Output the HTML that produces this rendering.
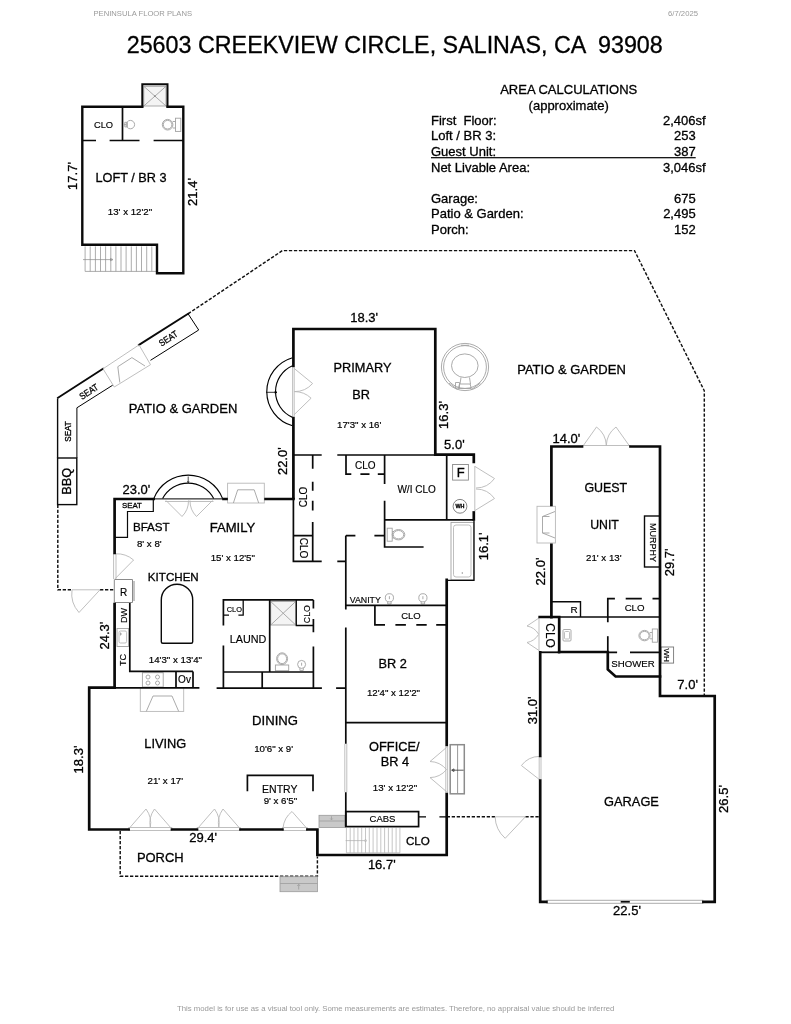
<!DOCTYPE html>
<html lang="en">
<head>
<meta charset="utf-8">
<title>25603 Creekview Circle, Salinas, CA 93908 - Floor Plan</title>
<style>
html,body{margin:0;padding:0;background:#fff;}
body{width:791px;height:1024px;overflow:hidden;}
svg{display:block;filter:grayscale(1);}
text{font-family:"Liberation Sans",Arial,sans-serif;fill:#000;stroke:#000;stroke-width:0.3px;}
.W{stroke:#0a0a0a;stroke-width:2.7;fill:none;stroke-linecap:square;stroke-linejoin:miter;}
.w{stroke:#0a0a0a;stroke-width:1.7;fill:none;stroke-linecap:butt;stroke-linejoin:miter;}
.t{stroke:#000;stroke-width:1;fill:none;}
.g{stroke:#a2a2a2;stroke-width:0.9;fill:none;}
.gl{stroke:#b8b8b8;stroke-width:0.9;fill:none;}
.d{stroke:#111;stroke-width:1.45;fill:none;stroke-dasharray:3.3 1.7;}
.rm{font-size:13.1px;text-anchor:middle;}
.dm{font-size:9.7px;text-anchor:middle;stroke-width:0.2px;}
.ft{font-size:13px;text-anchor:middle;}
.sm{font-size:10px;text-anchor:middle;stroke-width:0.15px;}
.ac{font-size:13px;stroke-width:0.18px;}
.hd{font-size:7.65px;fill:#9a9a9a;stroke:none;}
</style>
</head>
<body>
<svg width="791" height="1024" viewBox="0 0 791 1024">
<rect width="791" height="1024" fill="#fff"/>

<!-- ===== HEADER ===== -->
<g id="header">
<text class="hd" x="93.5" y="16" textLength="98.5" lengthAdjust="spacingAndGlyphs">PENINSULA FLOOR PLANS</text>
<text class="hd" x="668" y="16" textLength="30" lengthAdjust="spacingAndGlyphs">6/7/2025</text>
<text x="126.700" y="53.400" style="font-size:23.300px" xml:space="preserve">25603 CREEKVIEW CIRCLE, SALINAS, CA  93908</text>
</g>

<!-- ===== AREA CALCULATIONS ===== -->
<g id="area" class="ac">
<text x="568.7" y="94" text-anchor="middle">AREA CALCULATIONS</text>
<text x="568.7" y="109.5" text-anchor="middle">(approximate)</text>
<text x="431" y="125" xml:space="preserve">First  Floor:</text>
<text x="431" y="140">Loft / BR 3:</text>
<text x="431" y="155.5">Guest Unit:</text>
<text x="431" y="171.5">Net Livable Area:</text>
<text x="431" y="202.5">Garage:</text>
<text x="431" y="218">Patio &amp; Garden:</text>
<text x="431" y="233.5">Porch:</text>
<text x="705.7" y="125" text-anchor="end">2,406sf</text>
<text x="695.7" y="140" text-anchor="end">253</text>
<text x="695.7" y="155.5" text-anchor="end">387</text>
<text x="705.7" y="171.5" text-anchor="end">3,046sf</text>
<text x="695.7" y="202.5" text-anchor="end">675</text>
<text x="695.7" y="218" text-anchor="end">2,495</text>
<text x="695.7" y="233.5" text-anchor="end">152</text>
<rect x="431" y="157.100" width="264.700" height="1.200" fill="#000"/>
</g>

<!-- ===== LOFT ===== -->
<g id="loft">
<!-- stairs -->
<g fill="none" stroke="#8a8a8a" stroke-width="0.700">
<path d="M85.1 246.400V271.400M90.2 246.400V271.400M95.4 246.400V271.400M100.5 246.400V271.400M105.6 246.400V271.400M110.8 246.400V271.400M115.9 246.400V271.400M121.0 246.400V271.400M126.1 246.400V271.400M131.3 246.400V271.400M136.4 246.400V271.400M141.5 246.400V271.400M146.7 246.400V271.400M151.8 246.400V271.400"/>
<path d="M85.100 271.400H156"/>
<path d="M83 259.600H112M110.500 258.400l2.500 1.200l-2.500 1.200z"/>
</g>
<!-- shower -->
<rect x="143.800" y="86.300" width="22.200" height="19.700" class="g" style="fill:#f4f4f4"/>
<path class="g" d="M143.800 86.300L166 106M166 86.300L143.800 106"/>
<circle cx="154.900" cy="96.100" r="0.900" fill="#888"/>
<path class="w" d="M142.300 106.800V84.300H167.500V106.800" style="stroke-width:2"/>
<!-- outer walls -->
<path class="W" d="M142.300 106.800H82.300V244.800H157V273.200H183.300V106.800H167.500" style="stroke-width:2.400"/>
<!-- interior -->
<path class="w" d="M122.500 106.800V140.500M82.300 140.500H96M109.600 140.500H139.500M153.600 140.500H183.300"/>
<!-- sink -->
<circle class="g" cx="130.400" cy="124.600" r="4.200"/>
<path class="g" d="M124.800 122.300h2.600v4.600h-2.600zM123.800 124.600h3"/>
<!-- toilet -->
<circle class="g" cx="167.600" cy="124.700" r="5.300"/>
<circle class="g" cx="167.600" cy="124.700" r="4.300"/>
<rect class="g" x="175.500" y="118.200" width="5.300" height="13.200"/>
<path class="g" d="M172.800 121.500h2.700M172.800 128h2.700"/>
<text class="sm" style="font-size:9.300px" x="103.500" y="128.400">CLO</text>
<text class="rm" x="131" y="181.700" textLength="71" lengthAdjust="spacingAndGlyphs">LOFT / BR 3</text>
<text class="dm" x="130" y="215.400">13' x 12'2"</text>
<text class="ft" transform="translate(76.500 176) rotate(-90)">17.7'</text>
<text class="ft" transform="translate(197.400 192) rotate(-90)">21.4'</text>
</g>
<!-- ===== PATIO ===== -->
<g id="patio">
<!-- dashed boundary -->
<path class="d" d="M188.100 313.800L282.400 250.600H634.500L704.300 390.800V696"/>
<path class="d" d="M57.800 504.700V589.800H72M100 589.800H114.600"/>
<path class="d" d="M120.200 831V876.200H317.400V856.500"/>
<path class="d" d="M446.700 816.800H495.100M525.400 816.800H539.700"/>
<path class="t" d="M418.600 816.800H426M439.400 816.800H446.700" style="stroke-width:1.300"/>
<!-- seat band -->
<path class="w" d="M57.600 457.900V398.500" style="stroke-width:1.400"/><path class="w" d="M58 397.700L103 368.800M139 344.900L188.100 313.800" style="stroke-width:1.900;stroke-linecap:square"/>
<path class="t" d="M76.900 457.900V407.800L112.700 385.200M150.500 360.300L198.700 330L188.100 313.800"/>
<!-- patio fireplace -->
<path class="gl" d="M103 368.800L139 344.900L150.500 364.700L114.300 387Z"/>
<path class="g" d="M119.800 382.500L117.800 366.700L131.900 357.600L145 366"/>
<!-- BBQ -->
<rect class="w" x="57.600" y="458" width="19.200" height="46.600" style="stroke-width:1.400"/>
<text class="sm" style="font-size:9.300px;stroke-width:0.300px" transform="translate(88.800 391.600) rotate(-33)" dy="3.300" textLength="20.500" lengthAdjust="spacingAndGlyphs">SEAT</text>
<text class="sm" style="font-size:9.300px;stroke-width:0.300px" transform="translate(168.300 338.400) rotate(-33)" dy="3.300" textLength="20.500" lengthAdjust="spacingAndGlyphs">SEAT</text>
<text class="sm" style="font-size:9.300px;stroke-width:0.300px" transform="translate(67.900 431.500) rotate(-90)" dy="3.300" textLength="20.500" lengthAdjust="spacingAndGlyphs">SEAT</text>
<text class="ft" style="font-size:13.600px" transform="translate(65.800 481.300) rotate(-90)" dy="4.900" textLength="27" lengthAdjust="spacingAndGlyphs">BBQ</text>
<text class="rm" style="font-size:13px" x="183" y="412.600">PATIO &amp; GARDEN</text>
<text class="rm" style="font-size:13px" x="571.500" y="373.600">PATIO &amp; GARDEN</text>
<text class="rm" x="160.300" y="862" textLength="46.8" lengthAdjust="spacingAndGlyphs">PORCH</text>
<!-- hot tub -->
<g class="g">
<circle cx="465" cy="367" r="23.600"/>
<circle cx="465" cy="367" r="21.400"/>
<ellipse cx="464.800" cy="365.700" rx="13.300" ry="11.800"/>
<path d="M461 377.500l-1 6.500h10.500l-1 -6.500M459.500 384l-1.200 4.500h13l-1.200 -4.500M455.500 382.500h4v5.500h-4zM449 383l8.500 6.500M480.500 383l-9 6.500M461 345.300h8"/>
</g>
<!-- gates -->
<g class="gl">
<path d="M72 589.800H100M100 589.800L79 612.500M72 589.800A28 28 0 0 0 79 612.500"/>
<path d="M495.100 816.800H525.400M525.400 816.800L505.200 838.300M495.100 816.800A30 30 0 0 0 505.200 838.300"/>
</g>
<!-- porch steps -->
<g>
<rect x="280" y="876.700" width="37.400" height="15" fill="#c9c9c9" stroke="#9a9a9a" stroke-width="0.800"/>
<path class="g" d="M280 883.500H317.400M298.700 884.500v5M297.300 886l1.400 -1.800l1.400 1.800"/>
<rect x="319" y="815.300" width="26" height="12.200" fill="#c9c9c9" stroke="#9a9a9a" stroke-width="0.800"/>
<path class="g" d="M319 821H345M331.500 816.300v3.500M330.300 818.500l1.200 1.400l1.200 -1.400"/>
</g>
</g>
<!-- ===== MAIN HOUSE ===== -->
<g id="main">
<!-- light fixtures / grey items first -->
<g id="main-grey">
<!-- family fireplace -->
<rect class="gl" x="227.600" y="483.200" width="36.700" height="19.800" style="fill:#fff"/>
<path class="g" d="M233.400 503L237.700 489.800H254.200L258.700 503"/>
<!-- living fireplace -->
<rect class="gl" x="140.300" y="687.700" width="43.400" height="23.700" style="fill:#fff"/>
<path class="g" d="M146.300 711.400L153 696H172L178.700 711.400"/>
<!-- bay french doors (family) -->
<path class="gl" d="M166 500.500L182 516.500M212.500 500.500L196.500 516.500M182 516.500A22 22 0 0 0 188.500 500.500M196.500 516.500A22 22 0 0 1 190 500.500M165 501.500H213.500"/>
<!-- primary french doors -->
<path class="gl" d="M294 368.300L312.600 383.500M294 414.800L311.100 398.200M312.600 383.500A24 24 0 0 1 294.400 391.600M311.100 398.200A24 24 0 0 0 294.400 391.600M292.600 367.500V416.400M294.200 367.500V416.400"/>
<!-- kitchen side door -->
<path class="gl" d="M113.600 553.500V579M116 553.500V579M115 578.800L133.600 560M133.600 560A26 26 0 0 0 115.500 553.800"/>
<!-- living french doors -->
<path class="gl" d="M128.600 827.500H172V830.500H128.600ZM129.500 828L146 809M171 828L154.500 809M146 809A24 24 0 0 1 150.300 827.500M154.500 809A24 24 0 0 0 150.300 827.500"/>
<path class="gl" d="M197 827.500H240.500V830.500H197ZM198 828L214.500 809M239.500 828L223 809M214.500 809A24 24 0 0 1 218.800 827.500M223 809A24 24 0 0 0 218.800 827.500"/>
<!-- entry door -->
<path class="gl" d="M282.400 827.500H307.400V830.500H282.400ZM306.500 828L292 811.500M292 811.500A24 24 0 0 0 283 828"/>
<!-- office french doors + steps -->
<path class="gl" d="M445.800 746.300V792.800M447.600 746.300V792.800M446.700 747.300L430 761.500M446.700 791.800L430 777.600M430 761.500A22 22 0 0 1 446.500 769.600M430 777.600A22 22 0 0 0 446.500 769.600"/>
<rect x="450.200" y="744.700" width="14.100" height="49.100" fill="#fff" stroke="#8c8c8c" stroke-width="1.500"/>
<path class="g" d="M457.600 745V793.500" style="stroke:#8c8c8c"/>
<path class="t" d="M452 770.200H463.600M454 768.900l-2.400 1.300l2.400 1.300z" style="stroke-width:0.800;stroke:#333"/>
<!-- office window on left wall -->
<path class="gl" d="M344.800 743.800V792.200M346.800 743.800V792.200"/>
<!-- F closet doors -->
<path class="gl" d="M474.800 466V511M475 466.500L494.500 478.500M475 510.500L494.500 498.500M494.500 478.500A23 23 0 0 1 476 488M494.500 498.500A23 23 0 0 0 476 489"/>
<!-- bathtub -->
<rect class="g" x="451" y="522.400" width="22.800" height="57.400"/>
<rect class="gl" x="453.500" y="525" width="17.500" height="52" rx="2.500"/>
<circle cx="462.300" cy="573" r="0.700" fill="#888"/>
<!-- closet stairs -->
<g fill="none" stroke="#adadad" stroke-width="0.700">
<path d="M346.4 827.800V852.800M350.2 827.800V852.800M354.0 827.800V852.800M357.9 827.800V852.800M361.7 827.800V852.800M365.5 827.800V852.800M369.3 827.800V852.800M373.1 827.800V852.800M377.0 827.800V852.800M380.8 827.800V852.800M384.6 827.800V852.800M388.4 827.800V852.800M392.2 827.800V852.800M396.1 827.800V852.800M399.9 827.800V852.800"/>
<path d="M346.400 852.800H399.900"/>
<path d="M345.600 840.600H364.500"/>
<circle cx="365.500" cy="840.600" r="1"/>
</g>
<!-- toilets / sinks -->
<g class="g">
<ellipse cx="398.500" cy="534.700" rx="6.300" ry="5.200"/>
<ellipse cx="398.500" cy="534.700" rx="5.200" ry="4.200"/>
<rect x="387.200" y="528.200" width="5" height="13"/>
<path d="M392.200 531.500h1.800M392.200 538h1.800"/>
<circle cx="389.400" cy="597.800" r="4.100"/>
<path d="M387.700 601.600v2.300h3.400v-2.300M389.400 596.200v3"/>
<circle cx="422.900" cy="597.800" r="4.100"/>
<path d="M421.200 601.600v2.300h3.400v-2.300M422.900 596.200v3"/>
<ellipse cx="282.100" cy="658.700" rx="5.500" ry="5.900"/>
<ellipse cx="282.100" cy="658.700" rx="4.500" ry="4.900"/>
<rect x="275.400" y="665" width="13.300" height="5.700"/>
<circle cx="301.600" cy="664.400" r="4"/>
<path d="M299.900 668.100v2.300h3.400v-2.300M301.600 662.700v3"/>
</g>
<!-- laundry shower -->
<rect class="g" x="270.700" y="601.500" width="25" height="23.500" style="fill:#f4f4f4"/>
<path class="g" d="M270.700 601.500L295.700 625M295.700 601.500L270.700 625"/>
<!-- sink & stove in kitchen -->
<rect class="g" x="117" y="628.500" width="11.600" height="18"/>
<rect class="gl" x="119" y="631" width="7.600" height="12" rx="1.500"/>
<path class="g" d="M120 634h2M120.500 632.500v3"/>
<rect class="g" x="142.400" y="672.700" width="20.800" height="14.300"/>
<g class="g"><circle cx="148" cy="677" r="2"/><circle cx="157.500" cy="677" r="2"/><circle cx="148" cy="683" r="2"/><circle cx="157.500" cy="683" r="2"/></g>
</g>

<!-- thin interior walls -->
<g id="main-int" class="w">
<!-- primary suite -->
<path d="M293.400 455H321.700M337.300 455H446.700"/>
<path d="M346 455V474.100H351.300M360.400 474.100H369.500M377.800 474.100H384.700"/>
<path d="M384.600 455V484M384.600 500.700V547H423.600"/>
<path d="M384.600 519.800H473.800M446.700 455V519.800"/>
<path d="M293.400 498V561.400H321.700M337.300 561.400H346M293.400 535.600H312.700"/>
<path d="M312.700 455V468.800M312.700 481.700V490.800M312.700 500.700V510.500M312.700 521.900V561.400"/>
<path d="M346 535.600H355.400M374.400 535.600H384.600"/>
<path d="M345.800 535.600V609.400M345.800 627.400V743.800M345.800 792.200V826.600"/>
<path d="M345.800 605.300H446.700"/>
<path d="M374.900 605.300V624.900H385M395.400 624.900H405.900M416.300 624.900H426.700M436.200 624.900H446.700"/>
<path d="M345.800 722.700H446.700"/>
<path stroke-width="1.300" d="M474 521V580.300H446.700"/>
<!-- CABS -->
<rect x="345.800" y="811.600" width="72.800" height="15"/>
<!-- kitchen -->
<path d="M114.600 687.900H199.400M216.600 688.100H321.900M336.100 688.100H345.800"/>
<path d="M129.800 602V671.400H193M176 671.400V687.700M193 671.400V687.700"/>
<path stroke-width="1" stroke="#8a8a8a" d="M114.600 579.500H132.500V602.500H114.600M114.300 579.500V602.500M134 581V601"/>
<!-- bfast seat -->
<path stroke-width="1.200" d="M153.300 499V511.500H127.500V537.300H114.600"/>
<!-- island -->
<path stroke-width="1.400" d="M161.300 641.800V599.900A15.700 15.700 0 0 1 192.700 599.900V641.800Q192.700 643.300 191.200 643.300H162.800Q161.300 643.300 161.300 641.800Z"/>
<!-- laundry / hall bath -->
<path d="M313.400 599.900H223.400V625.500M223.400 645.400V688.100"/>
<path d="M223.400 672H313.400M262.200 672V688.100M269.700 599.900V672"/>
<path d="M313.400 599.900V608.400M313.400 618.900V632.200M313.400 646.400V688.100"/>
<path stroke-width="1.300" d="M243.200 599.900V615.100H238.400M229 615.100H223.400M296.300 599.900V625.500H313.400"/>
<!-- entry bracket -->
<path d="M247.400 791.300V775.400H313V791.300"/>
</g>

<!-- bay arcs -->
<g class="t" style="stroke-width:1.150">
<path d="M153.800 498.600A36.900 36.900 0 0 1 222.600 498.600M162.600 498.600A28.800 28.800 0 0 1 213.700 498.600"/><path stroke-width="1" d="M153.800 498.900H222.600"/>
<path d="M188.200 476.500v6M187.400 481.300l0.800 1.400l0.800 -1.400" stroke-width="0.700"/>
<path d="M292.500 357.700A35.400 35.400 0 0 0 292.500 425.800M292.500 365.800A28.100 28.100 0 0 0 292.500 417.400"/>
<path d="M266.100 392.300h10.600M275 391.300l2 1l-2 1z" stroke-width="0.800"/>
</g>

<!-- thick exterior walls -->
<g id="main-ext" class="W">
<path d="M293.400 498V418M293.400 366V329H435.300V454.600H473.800V462"/>
<path d="M473.800 512.500V519.500"/>
<path d="M446.700 579.800V745M446.700 794.200V855H317.400V829.500H307.400"/>
<path d="M282.400 829.500H240.500M197 829.500H172M128.600 829.500H89.200V687.700H114.600"/>
<path d="M114.600 687.700V604M114.600 553V499H153.600M223.500 499H226.500M265.600 499H293.400"/>
</g>

<!-- labels -->
<text class="ft" x="364.200" y="322">18.3'</text>
<text class="rm" x="362.500" y="371.700" textLength="58" lengthAdjust="spacingAndGlyphs">PRIMARY</text>
<text class="rm" x="361.200" y="399" textLength="17.7" lengthAdjust="spacingAndGlyphs">BR</text>
<text class="dm" x="359.200" y="427.600">17'3" x 16'</text>
<text class="ft" transform="translate(448.400 415) rotate(-90)">16.3'</text>
<text class="ft" x="454.400" y="448.500">5.0'</text>
<text class="ft" transform="translate(286.800 461.200) rotate(-90)">22.0'</text>
<text class="ft" x="136.400" y="494">23.0'</text>
<text class="sm" style="font-size:7.800px;stroke-width:0.300px" x="132" y="507.800">SEAT</text>
<text class="rm" style="font-size:11.6px" x="151.300" y="531">BFAST</text>
<text class="dm" x="149.300" y="546.800">8' x 8'</text>
<text class="rm" x="232.500" y="531.600">FAMILY</text>
<text class="dm" x="232.800" y="561.200">15' x 12'5"</text>
<text class="rm" style="font-size:11.6px" x="173.300" y="581.400">KITCHEN</text>
<text class="dm" x="175.400" y="662.700">14'3" x 13'4"</text>
<text class="sm" style="font-size:10px" x="123.600" y="595.800">R</text>
<text class="sm" style="font-size:9.1px" transform="translate(126.900 615.500) rotate(-90)">DW</text>
<text class="sm" style="font-size:9px" transform="translate(125.900 660) rotate(-90)">TC</text>
<text class="ft" transform="translate(109.200 635.600) rotate(-90)">24.3'</text>
<text class="sm" x="184.500" y="683.200">Ov</text>
<text class="sm" style="font-size:10.800px" x="248.100" y="643">LAUND</text>
<text class="sm" style="font-size:7.400px" x="234.300" y="612">CLO</text>
<text class="sm" style="font-size:8.8px" transform="translate(309.900 614.100) rotate(-90)">CLO</text>
<text class="sm" style="font-size:10px" x="416.600" y="493.200">W/I CLO</text>
<text class="sm" x="365.200" y="469.300">CLO</text>
<rect class="g" x="452.600" y="464.500" width="15.800" height="15.600" style="stroke:#888"/>
<text class="ft" x="460.800" y="477.400">F</text>
<circle class="t" cx="460" cy="506.300" r="6.900" style="stroke-width:0.800;stroke:#666"/>
<text x="460" y="508.300" style="font-size:5.400px" font-weight="bold" text-anchor="middle">WH</text>
<text class="sm" transform="translate(306.700 497) rotate(-90)">CLO</text>
<text class="sm" transform="translate(300.100 548) rotate(90)">CLO</text>
<text class="ft" transform="translate(488.200 546.400) rotate(-90)">16.1'</text>
<text class="sm" style="font-size:8.8px" x="365.300" y="602.800">VANITY</text>
<text class="sm" style="font-size:9.5px" x="410.900" y="618.500">CLO</text>
<text class="rm" x="392.600" y="667.600" textLength="28.4" lengthAdjust="spacingAndGlyphs">BR 2</text>
<text class="dm" x="393.500" y="695.800">12'4" x 12'2"</text>
<text class="rm" x="394.300" y="750.600" textLength="50.4" lengthAdjust="spacingAndGlyphs">OFFICE/</text>
<text class="rm" x="395" y="766.100" textLength="28.4" lengthAdjust="spacingAndGlyphs">BR 4</text>
<text class="dm" x="395" y="791.300">13' x 12'2"</text>
<text class="sm" style="font-size:9.500px" x="382.500" y="821.500">CABS</text>
<text class="rm" style="font-size:11.600px" x="417.900" y="844.700">CLO</text>
<text class="ft" x="381.800" y="869">16.7'</text>
<text class="rm" x="275" y="724.700">DINING</text>
<text class="dm" x="273.600" y="751.900">10'6" x 9'</text>
<text class="rm" x="165.300" y="748.100" textLength="42" lengthAdjust="spacingAndGlyphs">LIVING</text>
<text class="dm" x="165.300" y="784.300">21' x 17'</text>
<text class="sm" style="font-size:10.500px" x="279.800" y="793.300">ENTRY</text>
<text class="dm" x="280.400" y="804.200">9' x 6'5"</text>
<text class="ft" transform="translate(83.200 759.500) rotate(-90)">18.3'</text>
<text class="ft" x="203.200" y="842.300">29.4'</text>
</g>
<!-- ===== GUEST UNIT + GARAGE ===== -->
<g id="guest">
<g id="guest-grey">
<!-- guest fireplace -->
<rect class="gl" x="537" y="506.300" width="18.400" height="36.700" style="fill:#fff"/>
<path class="g" d="M555 511.500L542.500 516.500V533L555 538"/>
<path class="g" d="M542.500 516.500H549.500M542.500 533H549.500"/>
<!-- top french doors -->
<path class="gl" d="M582 445.500H630.500M583 446L596.500 427M629.500 446L616 427M596.500 427A24 24 0 0 1 606.300 445.500M616 427A24 24 0 0 0 606.300 445.500"/>
<!-- CLO double doors (left) -->
<path class="gl" d="M539 617.500V651M539 618L527 626M539 650.500L527 642.500M527 626A17 17 0 0 1 538.500 634M527 642.500A17 17 0 0 0 538.500 634.500"/>
<!-- garage side door -->
<path class="gl" d="M539.200 756.400V779.700M541 756.400V779.700M539.600 779.700L521.400 765.500M521.400 765.500A23 23 0 0 1 539.600 756.400"/>
<!-- garage doors -->
<path class="g" d="M546.400 900.300H703.400M546.400 903.300H703.400"/>
<!-- bath fixtures -->
<rect class="g" x="563" y="629.500" width="8" height="11.500" rx="1"/>
<rect class="gl" x="564.500" y="631.500" width="5" height="7.500" rx="1"/>
<ellipse class="g" cx="644.500" cy="635.600" rx="5.600" ry="5.200"/>
<ellipse class="g" cx="644.500" cy="635.600" rx="4.600" ry="4.200"/>
<rect class="g" x="652.300" y="629" width="5.200" height="13.200"/>
<path class="g" d="M650 632.500h2.300M650 638.800h2.300"/>
</g>
<!-- interior -->
<g class="w">
<path d="M558.700 617H660"/>
<path stroke-width="1.400" d="M551.400 601.800H580.500V617"/>
<path d="M607.800 622.200V598.600H614.900M625.700 598.600H641.800M652.500 598.600H660"/>
<path d="M607.800 636.200V652"/>
<path d="M607.800 652.300H617.100M630 652.300H660"/>
<rect stroke-width="1.400" x="644.500" y="516" width="15.500" height="51"/>
<rect stroke-width="0.900" stroke="#777" x="661" y="647" width="12.600" height="16.100"/>
</g>
<!-- exterior -->
<g class="W">
<path d="M582 446.500H551.400V505M551.400 544.800V617.200"/>
<path d="M630.500 446.500H660V696H714.700V901.800H703.400"/>
<path stroke-width="1.700" stroke-linecap="butt" d="M620.700 901.800H629.800"/><path d="M546.400 901.800H540.200V780.500M540.200 756V652.300"/>
<path d="M539.700 617H559.200V652"/><path stroke-width="1.800" d="M559.200 652.300H540"/>
<path d="M559.200 652H607.800V669.500L615.600 676.500H660"/>
</g>
<text class="ft" x="566.400" y="442.900">14.0'</text>
<text class="rm" x="605.800" y="491.600" textLength="42.8" lengthAdjust="spacingAndGlyphs">GUEST</text>
<text class="rm" x="604.500" y="528.600" textLength="28.7" lengthAdjust="spacingAndGlyphs">UNIT</text>
<text class="dm" x="603.800" y="561.200">21' x 13'</text>
<text class="sm" style="font-size:9px" transform="translate(650.300 542.400) rotate(90)">MURPHY</text>
<text class="ft" transform="translate(673.700 562.400) rotate(-90)">29.7'</text>
<text class="ft" transform="translate(545.100 571.500) rotate(-90)">22.0'</text>
<text class="sm" style="font-size:9.900px" x="574.100" y="613.400">R</text>
<text class="sm" style="font-size:9.700px" x="634.600" y="610.800">CLO</text>
<text class="sm" style="font-size:12px" transform="translate(545.500 635.600) rotate(90)">CLO</text>
<text class="sm" style="font-size:8px" transform="translate(664.400 655.100) rotate(90)">WH</text>
<text class="sm" style="font-size:9.640px" x="633" y="666.800">SHOWER</text>
<text class="ft" x="687.600" y="689.300">7.0'</text>
<text class="ft" transform="translate(537.400 710.400) rotate(-90)">31.0'</text>
<text class="rm" x="631.500" y="805.800" textLength="54.8" lengthAdjust="spacingAndGlyphs">GARAGE</text>
<text class="ft" transform="translate(727.700 799) rotate(-90)">26.5'</text>
<text class="ft" x="627" y="915.100">22.5'</text>
</g>
<!-- FOOTER -->
<text x="177" y="1011" style="font-size:7.77px;fill:#9a9a9a;stroke:none">This model is for use as a visual tool only. Some measurements are estimates. Therefore, no appraisal value should be inferred</text>
</svg>
</body>
</html>
